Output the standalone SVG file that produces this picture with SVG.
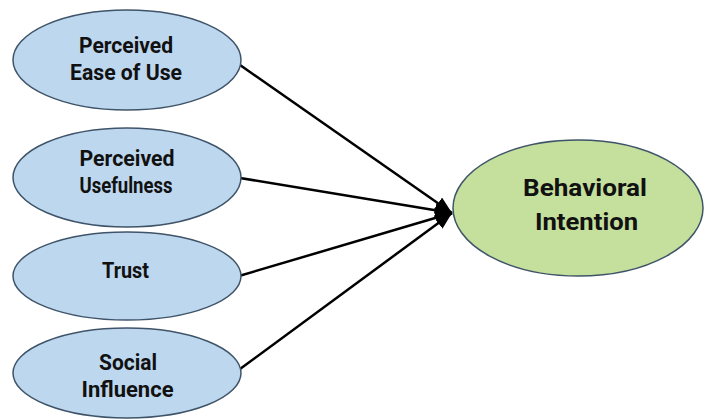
<svg xmlns="http://www.w3.org/2000/svg" width="704" height="419" viewBox="0 0 704 419">
  <style>
    .factor { fill: #bdd7ee; stroke: #3f5468; stroke-width: 1.5; }
    .outcome { fill: #c5df9c; stroke: #3f5468; stroke-width: 1.5; }
    .label { font-family: Roboto, "Open Sans", "Liberation Sans", sans-serif; font-weight: 700; fill: #111111; text-anchor: middle; }
    .small { font-size: 22.5px; }
    .big { font-size: 24px; }
    .link { stroke: #000000; stroke-width: 2.5; fill: none; }
  </style>
  <defs>
    <marker id="arrow" markerUnits="userSpaceOnUse" markerWidth="18" markerHeight="14" refX="17" refY="7" orient="auto">
      <path d="M0,0 L17,7 L0,14 z" fill="#000000"/>
    </marker>
  </defs>

  <g id="connectors">
    <line class="link" x1="240" y1="65" x2="452" y2="213" marker-end="url(#arrow)"/>
    <line class="link" x1="240" y1="178" x2="452" y2="213" marker-end="url(#arrow)"/>
    <line class="link" x1="239" y1="276" x2="452" y2="213" marker-end="url(#arrow)"/>
    <line class="link" x1="240" y1="369" x2="452" y2="213" marker-end="url(#arrow)"/>
  </g>

  <g id="perceived-ease-of-use">
    <ellipse class="factor" cx="127" cy="60" rx="114" ry="50"/>
    <text class="label small" x="126" y="53" textLength="94" lengthAdjust="spacingAndGlyphs">Perceived</text>
    <text class="label small" x="126" y="79.5" textLength="112" lengthAdjust="spacingAndGlyphs">Ease of Use</text>
  </g>

  <g id="perceived-usefulness">
    <ellipse class="factor" cx="127" cy="177.5" rx="114" ry="49.5"/>
    <text class="label small" x="127" y="166" textLength="95" lengthAdjust="spacingAndGlyphs">Perceived</text>
    <text class="label small" x="126" y="192.5" textLength="93" lengthAdjust="spacingAndGlyphs">Usefulness</text>
  </g>

  <g id="trust">
    <ellipse class="factor" cx="127" cy="276" rx="114" ry="44"/>
    <text class="label small" x="125.5" y="278" textLength="47" lengthAdjust="spacingAndGlyphs">Trust</text>
  </g>

  <g id="social-influence">
    <ellipse class="factor" cx="127" cy="373" rx="114" ry="45"/>
    <text class="label small" x="128" y="370" textLength="58" lengthAdjust="spacingAndGlyphs">Social</text>
    <text class="label small" x="127.5" y="396.5" textLength="92" lengthAdjust="spacingAndGlyphs">Influence</text>
  </g>

  <g id="behavioral-intention">
    <ellipse class="outcome" cx="578" cy="208" rx="125" ry="68"/>
    <text class="label big" x="585" y="196" textLength="124" lengthAdjust="spacingAndGlyphs">Behavioral</text>
    <text class="label big" x="586.5" y="230" textLength="103" lengthAdjust="spacingAndGlyphs">Intention</text>
  </g>
</svg>
